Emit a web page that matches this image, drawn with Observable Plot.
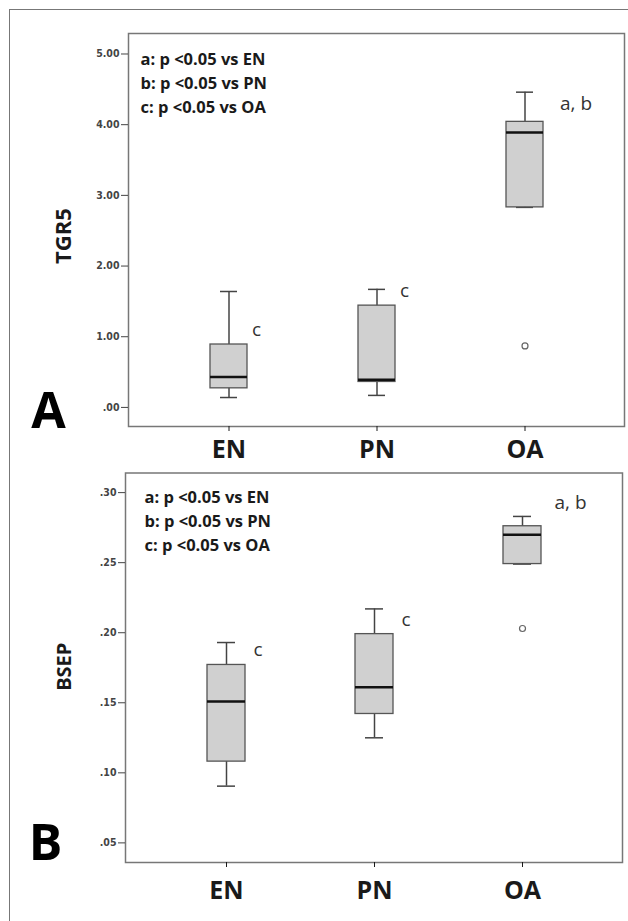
<!DOCTYPE html>
<html><head><meta charset="utf-8">
<script src="https://cdn.jsdelivr.net/npm/d3@7"></script>
<script src="https://cdn.jsdelivr.net/npm/@observablehq/plot@0.6"></script>
<style>
html,body{margin:0;padding:0;background:#fff;}
#wrap{position:relative;width:628px;height:921px;overflow:hidden;background:#fff;}
#outer{position:absolute;left:9px;top:9px;width:700px;height:1000px;border-left:1.5px solid #777;border-top:1.5px solid #777;}
#a,#b{position:absolute;left:0;}
#a{top:0;}#b{top:460px;}
</style></head><body>
<div id="wrap"><div id="outer"></div><div id="a"></div><div id="b"></div></div>
<script>
// ---- data ----
const groups = ["EN", "PN", "OA"];

// Panel A: TGR5 (box-plot summaries)
const tgr5Low    = [0.14, 0.17, 2.83];
const tgr5Q1     = [0.27, 0.36, 2.83];
const tgr5Median = [0.43, 0.39, 3.89];
const tgr5Q3     = [0.89, 1.44, 4.04];
const tgr5High   = [1.64, 1.67, 4.46];
const tgr5OutlierGroups = ["OA"];
const tgr5OutlierValues = [0.87];
const tgr5Ticks = [0, 1, 2, 3, 4, 5];
const tgr5Sig = ["c", "c", "a, b"];
const tgr5SigY = [1.09, 1.65, 4.30];

// Panel B: BSEP
const bsepLow    = [0.0905, 0.125, 0.249];
const bsepQ1     = [0.108, 0.142, 0.249];
const bsepMedian = [0.151, 0.161, 0.270];
const bsepQ3     = [0.177, 0.199, 0.276];
const bsepHigh   = [0.193, 0.217, 0.283];
const bsepOutlierGroups = ["OA"];
const bsepOutlierValues = [0.203];
const bsepTicks = [0.05, 0.10, 0.15, 0.20, 0.25, 0.30];
const bsepSig = ["c", "c", "a, b"];
const bsepSigY = [0.188, 0.209, 0.293];

const legendLines = ["a: p <0.05 vs EN", "b: p <0.05 vs PN", "c: p <0.05 vs OA"];

// ---- helpers ----
const fmt = d => d3.format(".2f")(d).replace(/^0/, "");
const narrow = "'Liberation Sans Narrow', 'DejaVu Sans Condensed', 'Arial Narrow', sans-serif";
const main = "'Open Sans', 'DejaVu Sans', sans-serif";

function rowsOf(low, q1, med, q3, high) {
  return groups.map((g, i) => ({group: g, low: low[i], q1: q1[i], median: med[i], q3: q3[i], high: high[i]}));
}

function panel(o) {
  const rows = rowsOf(o.low, o.q1, o.med, o.q3, o.high);
  const outliers = o.outG.map((g, i) => ({group: g, value: o.outV[i]}));
  const sig = groups.map((g, i) => ({group: g, value: o.sigY[i], label: o.sig[i]}));
  return Plot.plot({
    width: 628, height: o.height,
    marginLeft: o.ml, marginRight: o.mr, marginTop: o.mt, marginBottom: o.mb,
    style: {background: "transparent", fontFamily: main, color: "#222", overflow: "visible"},
    x: {domain: groups, type: "band", paddingInner: o.pi, paddingOuter: o.po},
    y: {domain: o.domain},
    marks: [
      Plot.frame({stroke: "#777", strokeWidth: 1.5}),
      Plot.axisY({ticks: o.ticks, tickFormat: fmt, tickSize: 7, tickPadding: 2, fontSize: 10.5,
                  fontWeight: "bold", fontFamily: narrow, label: null, color: "#444"}),
      Plot.axisX({tickSize: 5, tickPadding: o.xpad, fontSize: 25, fontWeight: "bold", label: null, color: "#1a1a1a"}),
      Plot.ruleX(rows, {x: "group", y1: "low", y2: "high", stroke: "#444", strokeWidth: 1.5}),
      Plot.tickY(rows, {x: "group", y: "low", insetLeft: 10, insetRight: 10, stroke: "#444", strokeWidth: 1.5}),
      Plot.tickY(rows, {x: "group", y: "high", insetLeft: 10, insetRight: 10, stroke: "#444", strokeWidth: 1.5}),
      Plot.barY(rows, {x: "group", y1: "q1", y2: "q3", fill: "#d0d0d0", stroke: "#555", strokeWidth: 1.3}),
      Plot.tickY(rows, {x: "group", y: "median", stroke: "#111", strokeWidth: 2.5}),
      Plot.dot(outliers, {x: "group", y: "value", r: 3, stroke: "#666", fill: "white", strokeWidth: 1.2}),
      Plot.text(sig.filter(d => d.label === "c"), {x: "group", y: "value", text: "label", dx: o.cdx,
                textAnchor: "start", fontSize: 19, fill: "#333"}),
      Plot.text(sig.filter(d => d.label !== "c"), {x: "group", y: "value", text: "label", dx: o.abdx,
                textAnchor: "start", fontSize: 19, fill: "#333"}),
      Plot.text([legendLines.join("\n")], {frameAnchor: "top-left", dx: o.ldx, dy: o.ldy, text: d => d,
                textAnchor: "start", lineAnchor: "middle", lineHeight: 1.45, fontSize: 16.5, fontWeight: "bold", fill: "#1a1a1a"}),
      Plot.text([o.letter], {frameAnchor: "bottom-left", dx: o.letDx, dy: o.letDy, text: d => d,
                textAnchor: "middle", lineAnchor: "middle", fontSize: 50, fontWeight: "bold", fill: "#000"}),
      Plot.text([o.ylabel], {frameAnchor: "left", dx: o.yldx, dy: o.yldy, text: d => d, rotate: -90,
                textAnchor: "middle", lineAnchor: "middle", fontSize: o.ylsize, fontWeight: "bold", fill: "#1a1a1a"})
    ]
  });
}

document.getElementById("a").append(panel({
  low: tgr5Low, q1: tgr5Q1, med: tgr5Median, q3: tgr5Q3, high: tgr5High,
  outG: tgr5OutlierGroups, outV: tgr5OutlierValues, ticks: tgr5Ticks, sig: tgr5Sig, sigY: tgr5SigY,
  domain: [-0.27, 5.29], height: 472, ml: 128, mr: 4, mt: 33, mb: 46,
  pi: 0.7517, po: 0.5403, xpad: 9,
  cdx: 23, abdx: 35, ldx: 12, ldy: 48, letter: "A", letDx: -80, letDy: -15,
  ylabel: "TGR5", ylsize: 22, yldx: -64.5, yldy: 6
}));

document.getElementById("b").append(panel({
  low: bsepLow, q1: bsepQ1, med: bsepMedian, q3: bsepQ3, high: bsepHigh,
  outG: bsepOutlierGroups, outV: bsepOutlierValues, ticks: bsepTicks, sig: bsepSig, sigY: bsepSigY,
  domain: [0.036, 0.314], height: 461, ml: 125, mr: 6, mt: 12.5, mb: 59,
  pi: 0.746, po: 0.542, xpad: 14,
  cdx: 27, abdx: 32, ldx: 19, ldy: 46.5, letter: "B", letDx: -80, letDy: -19,
  ylabel: "BSEP", ylsize: 20, yldx: -60.5, yldy: -1
}));
</script>
</body></html>
